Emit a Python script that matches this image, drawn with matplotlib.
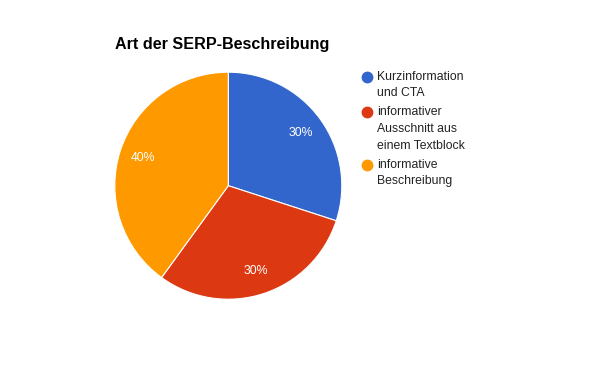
import matplotlib
matplotlib.use("Agg")
import matplotlib.pyplot as plt

# Daten
kategorien = ["Kurzinformation\nund CTA", "informativer\nAusschnitt aus\neinem Textblock", "informative\nBeschreibung"]
anteile = [30, 30, 40]
farben = ["#3366cc", "#dc3912", "#ff9900"]
titel = "Art der SERP-Beschreibung"

plt.rcParams['font.family'] = ['Liberation Sans', 'DejaVu Sans']

W, H = 595, 368
fig = plt.figure(figsize=(W / 100, H / 100), dpi=100)

# Kreis: Mittelpunkt (228, 185.5), Radius 113.5 Pixel
cx, cy, r = 228.3, 185.7, 113.5
ax = fig.add_axes([(cx - r) / W, (H - cy - r) / H, 2 * r / W, 2 * r / H])
ax.pie(anteile, colors=farben, startangle=90, counterclock=False,
       autopct='%d%%', pctdistance=0.79,
       wedgeprops=dict(edgecolor='white', linewidth=0.8),
       textprops=dict(color='white', fontsize=8.8))
ax.set_xlim(-1, 1)
ax.set_ylim(-1, 1)
ax.set_aspect('auto')

fig.text(115 / W, 1 - 45 / H, titel, fontsize=11.6, fontweight='bold', va='center', ha='left')

# Legende manuell
y = 76.5
for name, farbe in zip(kategorien, farben):
    fig.add_artist(plt.Line2D([367 / W], [1 - y / H], marker='o', markersize=7.5,
                              color=farbe, linestyle='none', transform=fig.transFigure))
    for i, zeile in enumerate(name.split("\n")):
        fig.text(377 / W, 1 - (y + i * 17) / H, zeile, fontsize=8.8, color='#222222',
                 va='center', ha='left')
    y += len(name.split("\n")) * 17 + 1.5

fig.savefig("out.png", dpi=100)
